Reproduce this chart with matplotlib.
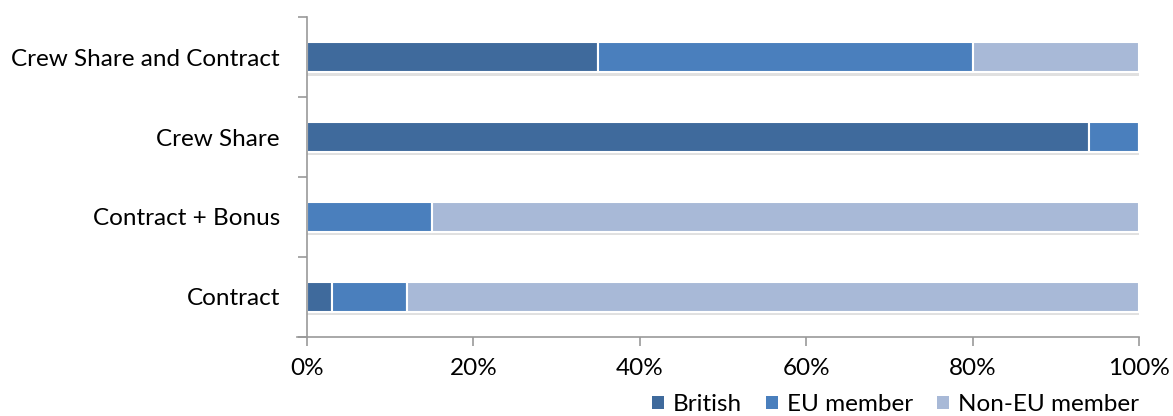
import matplotlib.pyplot as plt
import matplotlib.patheffects as pe
from matplotlib.patches import Patch
import numpy as np

categories = ["Contract", "Contract + Bonus", "Crew Share", "Crew Share and Contract"]
british = [3, 0, 94, 35]
eu_member = [9, 15, 6, 45]
non_eu = [88, 85, 0, 20]

series = [("British", british, "#3f6a9c"),
          ("EU member", eu_member, "#4a7fbd"),
          ("Non-EU member", non_eu, "#a8b9d7")]

plt.rcParams['font.family'] = ['Lato', 'DejaVu Sans']
fs = 17.5

fig = plt.figure(figsize=(11.73, 4.16), dpi=100)
ax = fig.add_axes([0.2617, 0.19, 0.7094, 0.769])

y = np.arange(len(categories))
left = np.zeros(len(categories))
shadow = [pe.SimplePatchShadow(offset=(0, -2.5), shadow_rgbFace="#999999", alpha=0.3), pe.Normal()]
for name, vals, color in series:
    vals = np.array(vals, dtype=float)
    ax.barh(y, vals, left=left, height=0.375, color=color, edgecolor="white",
            linewidth=1.5, path_effects=shadow)
    left += vals

ax.set_xlim(0, 100)
ax.set_ylim(-0.5, len(categories) - 0.5)
ax.set_xticks(np.arange(0, 101, 20))
ax.set_xticklabels([f"{v}%" for v in range(0, 101, 20)])
ax.set_yticks(y)
ax.set_yticklabels(categories)
ax.set_yticks(np.arange(-0.5, len(categories)), minor=True)
ax.tick_params(axis="both", which="major", labelsize=fs)
ax.tick_params(axis="y", which="major", length=0, pad=19.5)
ax.tick_params(axis="y", which="minor", length=6.5, color="#999999", width=1.2)
ax.tick_params(axis="x", length=6.5, color="#999999", width=1.2, pad=9)

for s in ["top", "right"]:
    ax.spines[s].set_visible(False)
for s in ["left", "bottom"]:
    ax.spines[s].set_color("#999999")
    ax.spines[s].set_linewidth(1.2)
ax.spines["bottom"].set_bounds(-1.2, 100)

# plain squares in the legend, without the bar shadow
handles = [Patch(facecolor=c, edgecolor="none") for _, _, c in series]
labels = [n for n, _, _ in series]
fig.legend(handles, labels, loc="lower right",
           bbox_to_anchor=(0.971, 0.002), ncol=3, frameon=False,
           fontsize=fs, handlelength=0.5, handleheight=0.5, handletextpad=0.35,
           columnspacing=1.0, borderpad=0, borderaxespad=0)

fig.savefig("out.png", dpi=100)
